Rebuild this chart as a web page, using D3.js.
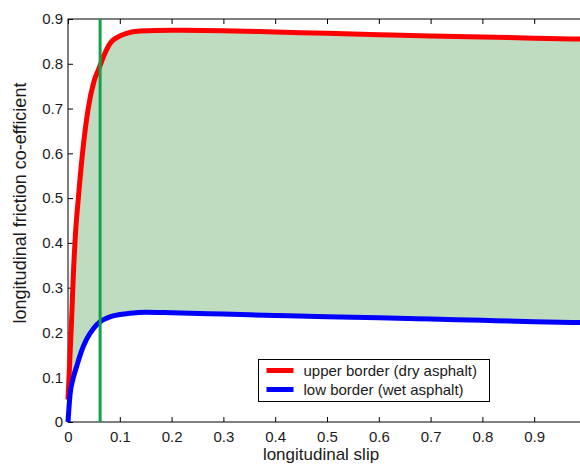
<!DOCTYPE html>
<html>
<head>
<meta charset="utf-8">
<script src="https://cdn.jsdelivr.net/npm/d3@7"></script>
<style>
  body { margin: 0; background: #fff; }
  svg { display: block; }
  text { font-family: Arial, "Liberation Sans", sans-serif; fill: #1a1a1a; }
</style>
</head>
<body>
<div id="chart"></div>
<script>
// friction borders
var slipUpper = [0, 0.002, 0.007, 0.01, 0.015, 0.02, 0.028, 0.039, 0.05, 0.06, 0.07, 0.081, 0.1, 0.113, 0.139, 0.2, 0.3, 0.4, 0.5, 0.6, 0.7, 0.8, 0.9, 1.0];
var frictionUpper = [0.05, 0.10, 0.23, 0.32, 0.43, 0.50, 0.60, 0.70, 0.76, 0.79, 0.82, 0.845, 0.862, 0.868, 0.873, 0.875, 0.874, 0.871, 0.868, 0.865, 0.862, 0.86, 0.857, 0.855];

var slipLower = [0, 0.004, 0.01, 0.017, 0.025, 0.036, 0.05, 0.062, 0.075, 0.087, 0.1, 0.12, 0.15, 0.2, 0.3, 0.4, 0.5, 0.6, 0.7, 0.8, 0.9, 1.0];
var frictionLower = [0, 0.062, 0.098, 0.125, 0.155, 0.185, 0.21, 0.224, 0.232, 0.237, 0.240, 0.243, 0.245, 0.244, 0.241, 0.238, 0.235, 0.233, 0.230, 0.227, 0.224, 0.222];

var markerSlip = 0.062;

var xTicks = [0, 0.1, 0.2, 0.3, 0.4, 0.5, 0.6, 0.7, 0.8, 0.9];
var yTicks = [0, 0.1, 0.2, 0.3, 0.4, 0.5, 0.6, 0.7, 0.8, 0.9];
var legendLabels = ["upper border (dry asphalt)", "low border (wet asphalt)"];
var legendColors = ["#ff0000", "#0000ff"];

// set the dimensions and margins of the graph
var margin = {top: 19, left: 68},
    width = 518,
    height = 403;

var svg = d3.select("#chart")
  .append("svg")
    .attr("width", 580)
    .attr("height", 468)
  .append("g")
    .attr("transform", "translate(" + margin.left + "," + margin.top + ")");

var x = d3.scaleLinear().domain([0, 1]).range([0, width]);
var y = d3.scaleLinear().domain([0, 0.9]).range([height, 0]);

var upper = slipUpper.map(function(s, i) { return [s, frictionUpper[i]]; });
var lower = slipLower.map(function(s, i) { return [s, frictionLower[i]]; });

var line = d3.line()
  .x(function(d) { return x(d[0]); })
  .y(function(d) { return y(d[1]); })
  .curve(d3.curveMonotoneX);

// shaded band between the two borders
var back = line(lower.slice().reverse());
svg.append("path")
  .attr("d", line(upper) + "L" + back.slice(1) + "Z")
  .style("fill", "#c0dcc0")
  .style("stroke", "none");

// box with inward ticks on all sides
svg.append("rect")
  .attr("width", width).attr("height", height)
  .style("fill", "none").style("stroke", "#000").style("stroke-width", 1);

var tickLen = 5;
svg.append("g").attr("transform", "translate(0," + height + ")")
  .call(d3.axisBottom(x).tickValues(xTicks).tickSize(-tickLen).tickPadding(9).tickFormat(d3.format("")))
  .call(function(g) { g.select(".domain").remove(); });
svg.append("g")
  .call(d3.axisTop(x).tickValues(xTicks).tickSize(-tickLen).tickFormat(""))
  .call(function(g) { g.select(".domain").remove(); });
svg.append("g")
  .call(d3.axisLeft(y).tickValues(yTicks).tickSize(-tickLen).tickPadding(5).tickFormat(d3.format("")))
  .call(function(g) { g.select(".domain").remove(); });
svg.append("g").attr("transform", "translate(" + width + ",0)")
  .call(d3.axisRight(y).tickValues(yTicks).tickSize(-tickLen).tickFormat(""))
  .call(function(g) { g.select(".domain").remove(); });

svg.selectAll(".tick line").style("stroke", "#000");
svg.selectAll(".tick text")
  .style("font-size", "15px")
  .style("fill", "#1a1a1a")
  .style("font-family", "Arial, 'Liberation Sans', sans-serif");

// the two borders
svg.append("path")
  .datum(upper)
  .attr("d", line)
  .style("fill", "none")
  .style("stroke", legendColors[0])
  .style("stroke-width", 5);

svg.append("path")
  .datum(lower)
  .attr("d", line)
  .style("fill", "none")
  .style("stroke", legendColors[1])
  .style("stroke-width", 5);

// vertical marker
svg.append("line")
  .attr("x1", x(markerSlip)).attr("x2", x(markerSlip))
  .attr("y1", y(0)).attr("y2", y(0.9))
  .style("stroke", "#13a04a")
  .style("stroke-width", 3);

// axis labels
svg.append("text")
  .attr("x", 253)
  .attr("y", 441)
  .style("text-anchor", "middle")
  .style("font-size", "17px")
  .text("longitudinal slip");

svg.append("text")
  .attr("transform", "translate(" + (26 - margin.left) + "," + (203 - margin.top) + ") rotate(-90)")
  .style("text-anchor", "middle")
  .style("font-size", "18px")
  .text("longitudinal friction co-efficient");

// legend
var legend = svg.append("g")
  .attr("transform", "translate(" + (258.5 - margin.left) + "," + (359.5 - margin.top) + ")");

legend.append("rect")
  .attr("width", 231)
  .attr("height", 42)
  .style("fill", "#fff")
  .style("stroke", "#000")
  .style("stroke-width", 1);

var item = legend.selectAll(".legend")
  .data(legendLabels)
  .enter().append("g")
    .attr("class", "legend")
    .attr("transform", function(d, i) { return "translate(0," + (11 + i * 19) + ")"; });

item.append("line")
  .attr("x1", 8).attr("x2", 35)
  .style("stroke", function(d, i) { return legendColors[i]; })
  .style("stroke-width", 5);

item.append("text")
  .attr("x", 45)
  .attr("y", 5)
  .style("font-size", "15px")
  .text(function(d) { return d; });
</script>
</body>
</html>
